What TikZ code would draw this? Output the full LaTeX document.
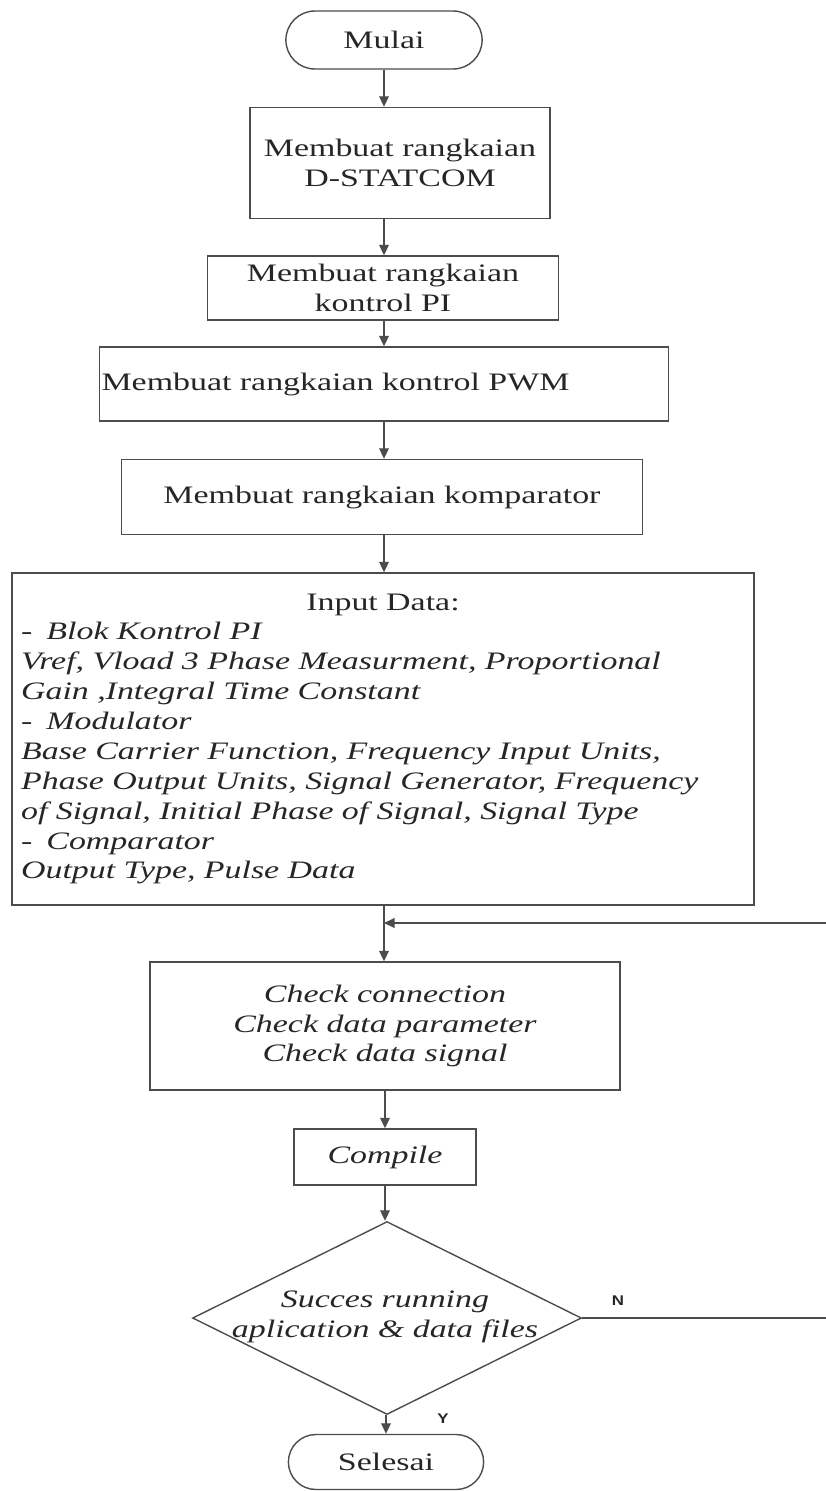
\documentclass[tikz,border=0pt]{standalone}
\usepackage{fontspec}
\setmainfont{Liberation Serif}[FakeStretch=1.35]
\newfontfamily\labelfont{Liberation Sans}[FakeStretch=1.2]
\usetikzlibrary{arrows.meta,shapes.geometric,shapes.misc}

\begin{document}
\begin{tikzpicture}[x=0.02cm,y=-0.02cm,
    garis/.style={draw=black!70,line width=0.8pt},
    panah/.style={garis,-{Triangle[length=6pt,width=5.5pt]}},
    kotak/.style={garis,rectangle,inner sep=2pt,text=black!85,font=\fontsize{14.3}{17}\selectfont,align=center},
    ujung/.style={garis,rounded rectangle,text=black!85,font=\fontsize{14.3}{17}\selectfont},
    miring/.style={text=black!85,font=\fontsize{14.3}{17}\selectfont\itshape,align=center},
    yn/.style={text=black!85,font=\labelfont\fontsize{8}{8}\selectfont\bfseries}]
  \useasboundingbox (0,0) rectangle (825,1491);

  % mulai dan pembuatan rangkaian
  \node[ujung,minimum width=4.16cm,minimum height=1.16cm] (mulai) at (384,40) {Mulai};
  \node[kotak,minimum width=6.0cm,minimum height=2.22cm] (statcom) at (400,163) {Membuat rangkaian\\D-STATCOM};
  \node[kotak,minimum width=7.02cm,minimum height=1.28cm] (kontrolpi) at (383,288) {Membuat rangkaian\\kontrol PI};
  \node[kotak,align=left,inner xsep=0.04cm,text width=11.3cm,minimum height=1.48cm] (pwm) at (384,384) {Membuat rangkaian kontrol PWM};
  \node[kotak,minimum width=10.42cm,minimum height=1.5cm] (komparator) at (382,497) {Membuat rangkaian komparator};

  % input data
  \node[kotak,align=left,inner xsep=0.18cm,text width=14.48cm,minimum height=6.64cm] (input) at (383,739) {%
    \hfill Input Data:\hfill\mbox{}\\
    \itshape -\hspace{8pt}Blok Kontrol PI\\
    \itshape Vref, Vload 3 Phase Measurment, Proportional\\
    \itshape Gain ,Integral Time Constant\\
    \itshape -\hspace{8pt}Modulator\\
    \itshape Base Carrier Function, Frequency Input Units,\\
    \itshape Phase Output Units, Signal Generator, Frequency\\
    \itshape of Signal, Initial Phase of Signal, Signal Type\\
    \itshape -\hspace{8pt}Comparator\\
    \itshape Output Type, Pulse Data};

  % pengecekan dan compile
  \node[kotak,font=\fontsize{14.3}{17}\selectfont\itshape,minimum width=9.4cm,minimum height=2.56cm] (cek) at (385,1026) {Check connection\\Check data parameter\\Check data signal};
  \node[kotak,font=\fontsize{14.3}{17}\selectfont\itshape,minimum width=3.64cm,minimum height=1.12cm] (compile) at (385,1157) {Compile};
  \node[garis,diamond,minimum width=7.78cm,minimum height=3.86cm,inner sep=0pt] (sukses) at (387,1318) {};
  \node[miring] (suksesteks) at (385,1317) {Succes running\\aplication \& data files};
  \node[ujung,minimum width=4.14cm,minimum height=1.1cm] (selesai) at (386,1462) {Selesai};

  % panah utama
  \draw[panah] (mulai.south) -- (mulai.south |- statcom.north);
  \draw[panah] (statcom.south -| mulai) -- (kontrolpi.north -| mulai);
  \draw[panah] (kontrolpi.south -| mulai) -- (pwm.north -| mulai);
  \draw[panah] (pwm.south -| mulai) -- (komparator.north -| mulai);
  \draw[panah] (komparator.south -| mulai) -- (input.north -| mulai);
  \draw[panah] (input.south -| mulai) -- (cek.north -| mulai);
  \draw[panah] (cek.south) -- (compile.north);
  \draw[panah] (compile.south) -- (compile.south |- sukses.north);
  \draw[panah] (sukses.south -| selesai) -- (selesai.north);

  % kembali bila gagal
  \coordinate (balik) at (828,923);
  \draw[garis] (sukses.east) -- (sukses.east -| balik) -- (balik);
  \draw[panah] (balik) -- (balik -| mulai);
  \node[yn] (tidak) at (618,1301) {N};
  \node[yn] (ya) at (443,1419) {Y};
\end{tikzpicture}
\end{document}
